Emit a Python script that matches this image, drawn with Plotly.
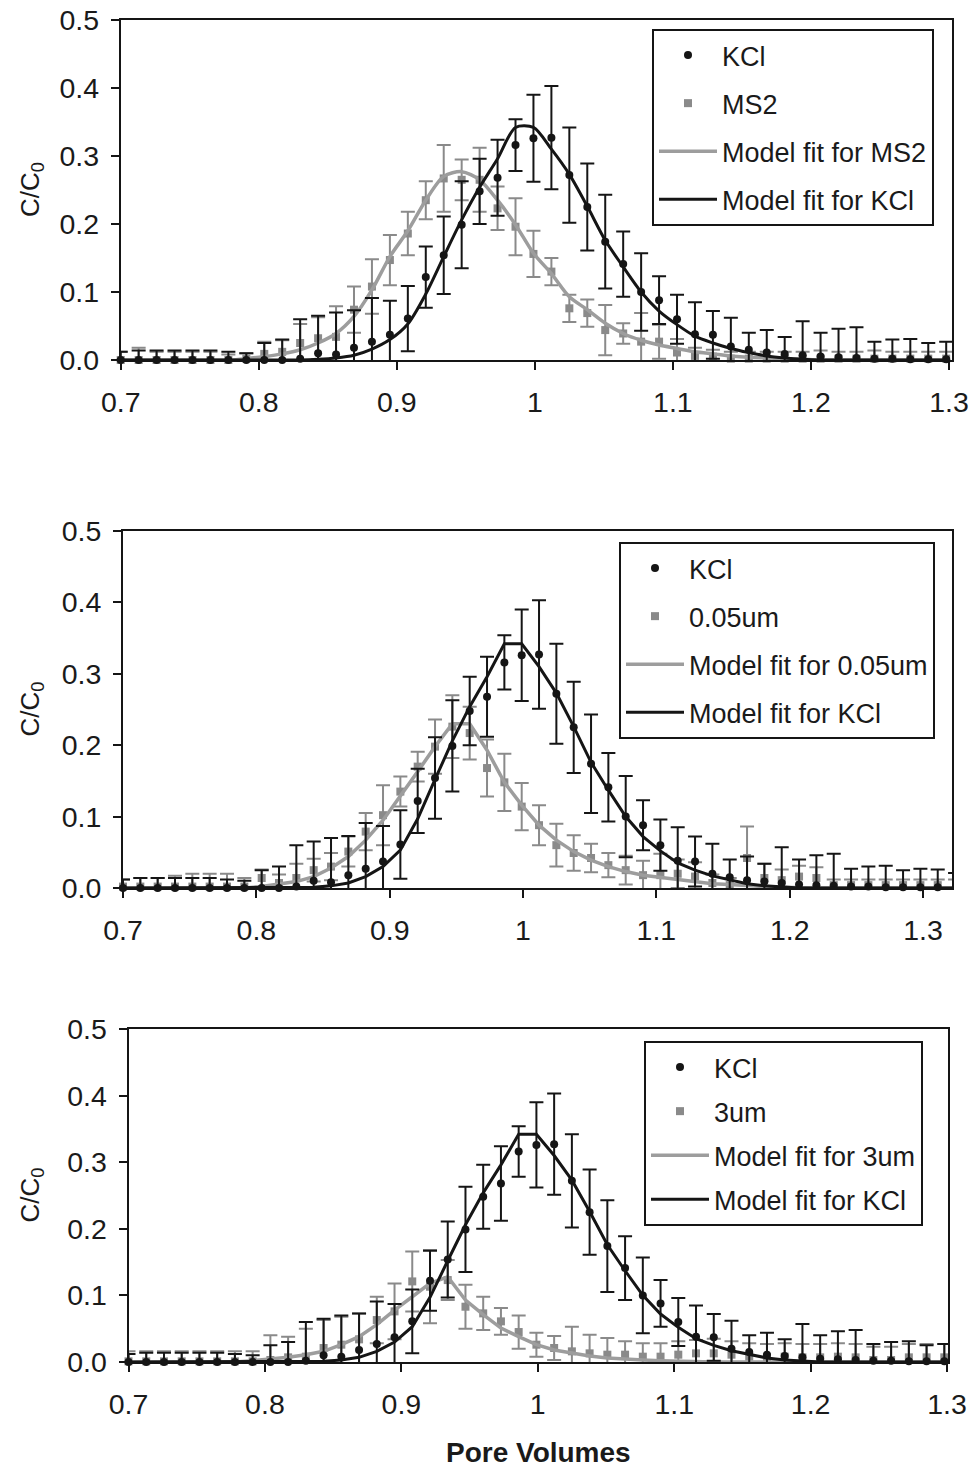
import plotly.graph_objects as go

# ---------------- data ----------------
pore_volumes = [0.700, 0.713, 0.726, 0.739, 0.752, 0.765, 0.778, 0.791, 0.804, 0.817,
                0.830, 0.843, 0.856, 0.869, 0.882, 0.895, 0.908, 0.921, 0.934, 0.947,
                0.960, 0.973, 0.986, 0.999, 1.012, 1.025, 1.038, 1.051, 1.064, 1.077,
                1.090, 1.103, 1.116, 1.129, 1.142, 1.155, 1.168, 1.181, 1.194, 1.207,
                1.220, 1.233, 1.246, 1.259, 1.272, 1.285, 1.298, 1.311, 1.324]

kcl_conc = [0.000, 0.000, 0.000, 0.000, 0.000, 0.000, 0.000, 0.000, 0.000, 0.000,
            0.002, 0.010, 0.008, 0.018, 0.027, 0.037, 0.061, 0.122, 0.154, 0.199,
            0.248, 0.268, 0.316, 0.326, 0.327, 0.272, 0.225, 0.174, 0.141, 0.100,
            0.088, 0.060, 0.038, 0.037, 0.020, 0.015, 0.011, 0.009, 0.007, 0.005,
            0.004, 0.003, 0.002, 0.002, 0.001, 0.001, 0.001, 0.001, 0.001]
kcl_err = [0.012, 0.014, 0.014, 0.014, 0.014, 0.014, 0.012, 0.010, 0.025, 0.030,
           0.058, 0.055, 0.062, 0.055, 0.064, 0.050, 0.048, 0.045, 0.057, 0.064,
           0.048, 0.056, 0.038, 0.064, 0.076, 0.070, 0.064, 0.069, 0.048, 0.057,
           0.035, 0.036, 0.047, 0.035, 0.042, 0.025, 0.033, 0.025, 0.050, 0.035,
           0.042, 0.045, 0.025, 0.028, 0.030, 0.024, 0.026, 0.025, 0.020]
kcl_fit = [0.000, 0.000, 0.000, 0.000, 0.000, 0.000, 0.000, 0.000, 0.000, 0.000,
           0.000, 0.001, 0.003, 0.007, 0.016, 0.030, 0.053, 0.097, 0.152, 0.206,
           0.254, 0.296, 0.342, 0.342, 0.310, 0.273, 0.226, 0.176, 0.137, 0.100,
           0.072, 0.052, 0.035, 0.025, 0.017, 0.011, 0.006, 0.003, 0.001, 0.000,
           0.000, 0.000, 0.000, 0.000, 0.000, 0.000, 0.000, 0.000, 0.000]

ms2_conc = [0.000, 0.000, 0.000, 0.000, 0.000, 0.000, 0.000, 0.002, 0.009, 0.012,
            0.025, 0.032, 0.034, 0.074, 0.108, 0.147, 0.186, 0.235, 0.267, 0.265,
            0.265, 0.223, 0.196, 0.156, 0.130, 0.076, 0.069, 0.044, 0.039, 0.027,
            0.027, 0.011, 0.006, 0.005, 0.002, 0.002, 0.002, 0.002, 0.002, 0.002,
            0.002, 0.002, 0.002, 0.002, 0.002, 0.002, 0.002]
ms2_err = [0.012, 0.018, 0.012, 0.012, 0.012, 0.012, 0.008, 0.008, 0.018, 0.017,
           0.028, 0.031, 0.045, 0.034, 0.040, 0.037, 0.032, 0.028, 0.049, 0.030,
           0.047, 0.032, 0.042, 0.034, 0.020, 0.020, 0.020, 0.037, 0.015, 0.042,
           0.025, 0.020, 0.012, 0.010, 0.010, 0.010, 0.010, 0.010, 0.010, 0.012,
           0.010, 0.010, 0.012, 0.010, 0.010, 0.010, 0.010]
ms2_fit = [0.000, 0.000, 0.000, 0.000, 0.000, 0.000, 0.000, 0.002, 0.005, 0.009,
           0.015, 0.025, 0.039, 0.064, 0.103, 0.152, 0.190, 0.235, 0.270, 0.277,
           0.265, 0.235, 0.199, 0.157, 0.127, 0.093, 0.074, 0.054, 0.039, 0.029,
           0.022, 0.017, 0.012, 0.009, 0.006, 0.004, 0.003, 0.002, 0.001, 0.000,
           0.000, 0.000, 0.000, 0.000, 0.000, 0.000, 0.000]

um005_conc = [0.002, 0.002, 0.002, 0.002, 0.002, 0.002, 0.002, 0.002, 0.014, 0.007,
              0.014, 0.025, 0.030, 0.051, 0.079, 0.102, 0.135, 0.170, 0.198, 0.226,
              0.217, 0.168, 0.148, 0.114, 0.088, 0.060, 0.049, 0.042, 0.032, 0.025,
              0.018, 0.018, 0.020, 0.016, 0.007, 0.004, 0.042, 0.014, 0.011, 0.016,
              0.014, 0.004, 0.004, 0.004, 0.004, 0.004, 0.004, 0.004, 0.004]
um005_err = [0.010, 0.012, 0.012, 0.015, 0.018, 0.018, 0.018, 0.012, 0.012, 0.012,
             0.020, 0.016, 0.019, 0.021, 0.026, 0.042, 0.021, 0.021, 0.038, 0.044,
             0.037, 0.040, 0.040, 0.033, 0.028, 0.030, 0.025, 0.020, 0.017, 0.020,
             0.020, 0.030, 0.020, 0.020, 0.012, 0.010, 0.044, 0.020, 0.015, 0.015,
             0.015, 0.008, 0.008, 0.008, 0.008, 0.008, 0.008, 0.008, 0.008]
um005_fit = [0.000, 0.000, 0.000, 0.000, 0.000, 0.000, 0.000, 0.000, 0.002, 0.005,
             0.009, 0.016, 0.028, 0.044, 0.067, 0.095, 0.128, 0.163, 0.198, 0.230,
             0.230, 0.193, 0.148, 0.116, 0.088, 0.067, 0.051, 0.039, 0.030, 0.023,
             0.018, 0.015, 0.011, 0.009, 0.006, 0.005, 0.003, 0.002, 0.001, 0.000,
             0.000, 0.000, 0.000, 0.000, 0.000, 0.000, 0.000, 0.000, 0.000]

um3_conc = [0.001, 0.001, 0.001, 0.001, 0.001, 0.001, 0.001, 0.001, 0.003, 0.007,
            0.008, 0.021, 0.026, 0.034, 0.063, 0.076, 0.121, 0.113, 0.123, 0.083,
            0.073, 0.061, 0.045, 0.026, 0.021, 0.016, 0.013, 0.011, 0.011, 0.008,
            0.008, 0.011, 0.013, 0.013, 0.011, 0.008, 0.007, 0.008, 0.007, 0.007,
            0.008, 0.007, 0.003, 0.003, 0.007, 0.007, 0.007]
um3_err = [0.015, 0.015, 0.015, 0.015, 0.015, 0.015, 0.015, 0.015, 0.037, 0.031,
           0.042, 0.042, 0.042, 0.039, 0.035, 0.042, 0.045, 0.055, 0.030, 0.033,
           0.025, 0.020, 0.025, 0.018, 0.018, 0.037, 0.028, 0.025, 0.020, 0.020,
           0.020, 0.020, 0.020, 0.022, 0.020, 0.020, 0.020, 0.020, 0.020, 0.020,
           0.020, 0.020, 0.020, 0.020, 0.020, 0.020, 0.020]
um3_fit = [0.000, 0.000, 0.000, 0.000, 0.000, 0.000, 0.000, 0.002, 0.004, 0.007,
           0.011, 0.016, 0.026, 0.038, 0.056, 0.078, 0.098, 0.118, 0.128, 0.093,
           0.071, 0.051, 0.038, 0.026, 0.018, 0.013, 0.009, 0.006, 0.004, 0.003,
           0.002, 0.001, 0.000, 0.000, 0.000, 0.000, 0.000, 0.000, 0.000, 0.000,
           0.000, 0.000, 0.000, 0.000, 0.000, 0.000, 0.000]

x_tick_values = [0.7, 0.8, 0.9, 1.0, 1.1, 1.2, 1.3]
x_tick_labels = ["0.7", "0.8", "0.9", "1", "1.1", "1.2", "1.3"]
y_tick_values = [0.0, 0.1, 0.2, 0.3, 0.4, 0.5]
y_tick_labels = ["0.0", "0.1", "0.2", "0.3", "0.4", "0.5"]

# ---------------- layout helpers ----------------
W, H = 973, 1470
BLACK = "#151515"
GRAY = "#8a8a8a"
GRAY_FIT = "#9d9d9d"
FONT = "Liberation Sans, Arial, sans-serif"


def px_x(p):
    return p / W


def px_y(p):
    return 1 - p / H


panels = [
    dict(name="MS2", conc=ms2_conc, err=ms2_err, fit=ms2_fit, n=47, smooth=True,
         left=120.7, right=952, top=20, bottom=360, xmax=1.3022,
         legend="legend", leg_x=652, leg_y=29, leg_font=27, gap=10),
    dict(name="0.05um", conc=um005_conc, err=um005_err, fit=um005_fit, n=49, smooth=False,
         left=123, right=952, top=531, bottom=888, xmax=1.3217,
         legend="legend2", leg_x=619, leg_y=542, leg_font=27, gap=10),
    dict(name="3um", conc=um3_conc, err=um3_err, fit=um3_fit, n=47, smooth=False,
         left=128.5, right=948, top=1029, bottom=1362, xmax=1.3007,
         legend="legend3", leg_x=644, leg_y=1041, leg_font=27, gap=6),
]

fig = go.Figure()
layout = dict(
    width=W, height=H, margin=dict(l=0, r=0, t=0, b=0, pad=0, autoexpand=False),
    paper_bgcolor="white", plot_bgcolor="white",
    font=dict(family=FONT, size=27, color="#1a1a1a"),
)
annotations = []

for k, p in enumerate(panels):
    sfx = "" if k == 0 else str(k + 1)
    xa, ya = "x" + sfx, "y" + sfx
    n = p["n"]
    xs = pore_volumes[:n]
    # particle data
    fig.add_trace(go.Scatter(
        x=xs, y=p["conc"], mode="markers", name=p["name"], xaxis=xa, yaxis=ya,
        marker=dict(symbol="square", size=8, color=GRAY),
        error_y=dict(type="data", array=p["err"], color=GRAY, thickness=2, width=7),
        cliponaxis=False, legend=p["legend"], legendgroup="a%d" % k, legendrank=2))
    fig.add_trace(go.Scatter(
        x=xs, y=p["fit"], mode="lines", name="Model fit for " + p["name"],
        xaxis=xa, yaxis=ya,
        line=dict(color=GRAY_FIT, width=3.5,
                  shape="spline" if p["smooth"] else "linear", smoothing=0.8),
        legend=p["legend"], legendgroup="b%d" % k, legendrank=3))
    # KCl tracer
    fig.add_trace(go.Scatter(
        x=xs, y=kcl_conc[:n], mode="markers", name="KCl", xaxis=xa, yaxis=ya,
        marker=dict(symbol="circle", size=8, color=BLACK),
        error_y=dict(type="data", array=kcl_err[:n], color=BLACK, thickness=2, width=7),
        cliponaxis=False, legend=p["legend"], legendgroup="c%d" % k, legendrank=1))
    fig.add_trace(go.Scatter(
        x=xs, y=kcl_fit[:n], mode="lines", name="Model fit for KCl",
        xaxis=xa, yaxis=ya,
        line=dict(color=BLACK, width=3,
                  shape="spline" if p["smooth"] else "linear", smoothing=0.8),
        legend=p["legend"], legendgroup="d%d" % k, legendrank=4))

    axis_common = dict(showgrid=False, zeroline=False, showline=True, linecolor=BLACK,
                       linewidth=2, mirror=True, ticks="outside", ticklen=8,
                       tickwidth=2, tickcolor=BLACK, automargin=False,
                       tickfont=dict(family=FONT, size=28.5, color="#1a1a1a"))
    layout["xaxis" + sfx] = dict(
        axis_common, domain=[px_x(p["left"]), px_x(p["right"])],
        range=[0.7, p["xmax"]], tickvals=x_tick_values, ticktext=x_tick_labels,
        anchor=ya, ticklabelstandoff=8)
    layout["yaxis" + sfx] = dict(
        axis_common, domain=[px_y(p["bottom"]), px_y(p["top"])],
        range=[0, 0.5], tickvals=y_tick_values, ticktext=y_tick_labels,
        anchor=xa, ticklabelstandoff=6)
    layout[p["legend"]] = dict(
        x=px_x(p["leg_x"]), y=px_y(p["leg_y"]), xanchor="left", yanchor="top",
        xref="paper", yref="paper",
        bordercolor=BLACK, borderwidth=2, bgcolor="white",
        font=dict(family=FONT, size=p["leg_font"], color="#1a1a1a"),
        traceorder="grouped", tracegroupgap=p["gap"], itemwidth=58,
        itemclick=False, itemdoubleclick=False)
    annotations.append(dict(
        text="C/C<sub>0</sub>", x=px_x(31), y=px_y((p["top"] + p["bottom"]) / 2),
        xref="paper", yref="paper", showarrow=False, textangle=-90,
        font=dict(family=FONT, size=26, color="#1a1a1a"),
        xanchor="center", yanchor="middle"))

annotations.append(dict(
    text="<b>Pore Volumes</b>", x=px_x(538), y=px_y(1452), xref="paper", yref="paper",
    showarrow=False, font=dict(family=FONT, size=28, color="#1a1a1a"),
    xanchor="center", yanchor="middle", borderpad=0))

layout["annotations"] = annotations
fig.update_layout(**layout)

fig.write_html("out.html", config={"displayModeBar": False},
               post_script="document.body.style.margin='0';")
